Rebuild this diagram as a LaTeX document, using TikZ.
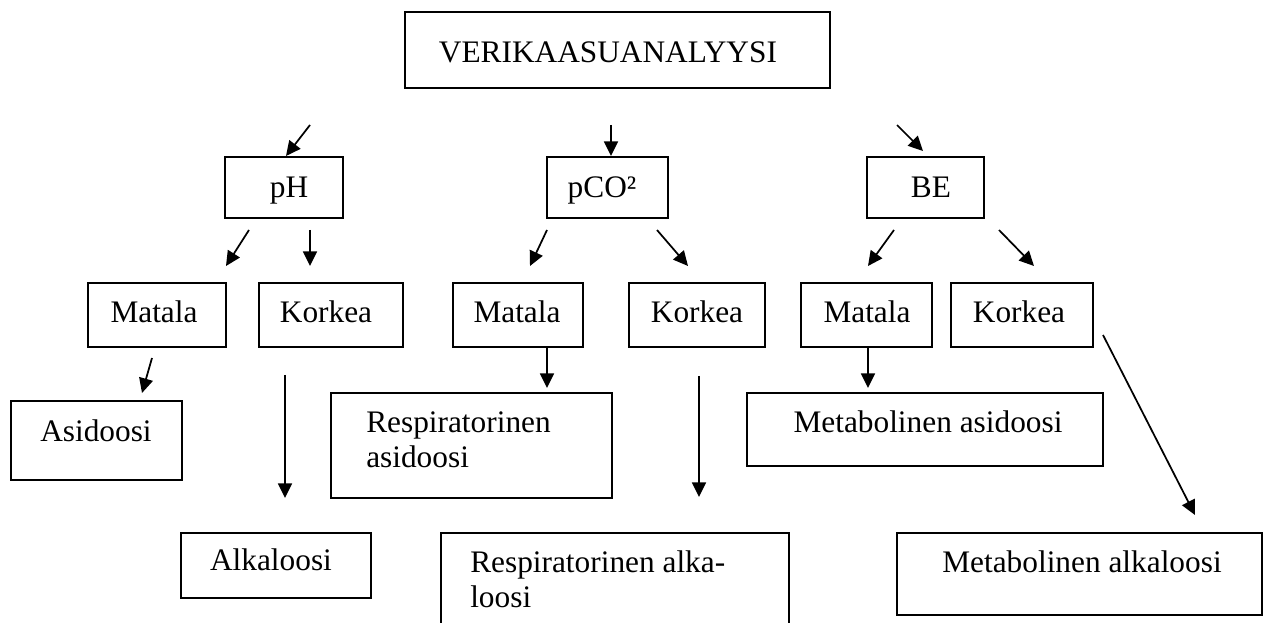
\documentclass[tikz,border=0pt]{standalone}
\usepackage{fontspec}
\setmainfont{Liberation Serif}
\usetikzlibrary{arrows.meta}
\newcommand\mybox[5]{\node[box, minimum width={(#4-#2)*0.75pt}, minimum height={(#5-#3)*0.75pt}] (#1) at ({(#2+#4)/2},{(#3+#5)/2}) {};}
\newcommand\myarrow[5]{\coordinate (#1s) at (#2,#3); \coordinate (#1e) at (#4,#5); \draw[arr] (#1s) -- (#1e);}
\begin{document}
\begin{tikzpicture}[x=0.75pt,y=-0.75pt,
  box/.style={draw, line width=1pt, inner sep=0pt, outer sep=0pt},
  txt/.style={inner sep=0pt, anchor=base, font=\fontsize{23.5}{26.25}\selectfont},
  ltxt/.style={txt, anchor=base west},
  arr/.style={line width=1.3pt, -{Triangle[length=11pt,width=10.5pt]}}]
\useasboundingbox (0,0) rectangle (1265,623);
\fill[white] (0,0) rectangle (1265,623);
% boxes
\mybox{title}{405}{12}{830}{88}
\mybox{ph}{225}{157}{343}{218}
\mybox{pco}{547}{157}{668}{218}
\mybox{be}{867}{157}{984}{218}
\mybox{mat1}{88}{283}{226}{347}
\mybox{kor1}{259}{283}{403}{347}
\mybox{mat2}{453}{283}{583}{347}
\mybox{kor2}{629}{283}{765}{347}
\mybox{mat3}{801}{283}{932}{347}
\mybox{kor3}{951}{283}{1093}{347}
\mybox{asi}{11}{401}{182}{480}
\mybox{resas}{331}{393}{612}{498}
\mybox{metas}{747}{393}{1103}{466}
\mybox{alk}{181}{533}{371}{598}
\mybox{resalk}{441}{533}{789}{660}
\mybox{metalk}{897}{533}{1262}{615}
% texts
\node[txt] (ttitle) at (608,63) {VERIKAASUANALYYSI};
\node[txt] (tph) at (289,198) {pH};
\node[txt] (tpco) at (602,198) {pCO²};
\node[txt] (tbe) at (931,198) {BE};
\node[txt] (tmat1) at (154,323) {Matala};
\node[txt] (tkor1) at (326,323) {Korkea};
\node[txt] (tmat2) at (517,323) {Matala};
\node[txt] (tkor2) at (697,323) {Korkea};
\node[txt] (tmat3) at (867,323) {Matala};
\node[txt] (tkor3) at (1019,323) {Korkea};
\node[txt] (tasi) at (96,442) {Asidoosi};
\node[ltxt] (tresas1) at (366,433) {Respiratorinen};
\node[ltxt] (tresas2) at (366,468) {asidoosi};
\node[txt] (tmetas) at (928,433) {Metabolinen asidoosi};
\node[txt] (talk) at (271,571) {Alkaloosi};
\node[ltxt] (tresalk1) at (470,573) {Respiratorinen alka-};
\node[ltxt] (tresalk2) at (470,608) {loosi};
\node[txt] (tmetalk) at (1082,573) {Metabolinen alkaloosi};
% arrows
\myarrow{a1}{310}{125}{286}{156}
\myarrow{a2}{611}{125}{611}{156}
\myarrow{a3}{897}{125}{923}{151}
\myarrow{b1}{249}{230}{226}{266}
\myarrow{b2}{310}{230}{310}{266}
\myarrow{b3}{547}{230}{530}{266}
\myarrow{b4}{657}{230}{688}{266}
\myarrow{b5}{894}{230}{868}{266}
\myarrow{b6}{999}{230}{1034}{266}
\myarrow{c1}{152}{358}{142}{393}
\myarrow{c2}{285}{375}{285}{498}
\myarrow{c3}{547}{347}{547}{388}
\myarrow{c4}{699}{376}{699}{497}
\myarrow{c5}{868}{347}{868}{388}
\myarrow{c6}{1103}{335}{1195}{515}
\end{tikzpicture}
\end{document}
